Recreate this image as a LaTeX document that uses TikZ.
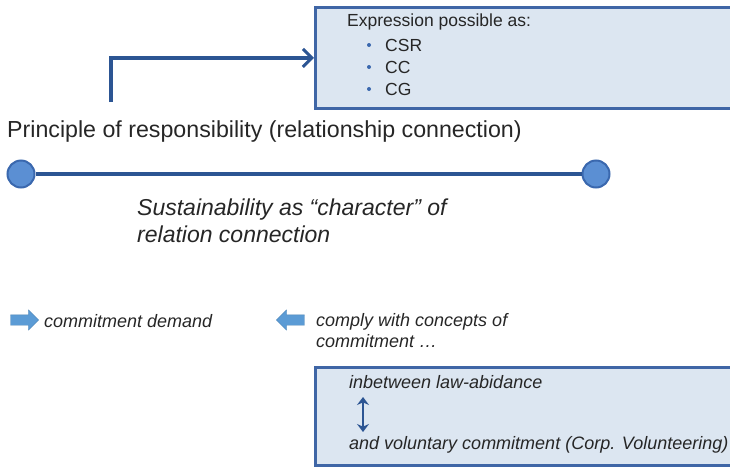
\documentclass[tikz,border=0pt]{standalone}
\usepackage{fontspec}
\setmainfont{Liberation Sans}
\usetikzlibrary{arrows.meta,shapes.arrows}
\definecolor{boxfill}{HTML}{DCE6F1}
\definecolor{boxline}{HTML}{3F66A6}
\definecolor{darkline}{HTML}{2C5593}
\definecolor{dotfill}{HTML}{5B8FD3}
\definecolor{dotline}{HTML}{3A68AE}
\definecolor{blockfill}{HTML}{5B9BD5}
\definecolor{txt}{HTML}{262626}
\tikzset{
  infobox/.style={draw=boxline, line width=2.8pt, fill=boxfill, rectangle, inner sep=0pt, anchor=north west},
  conn/.style={draw=darkline, line width=3.4pt},
  endpt/.style={circle, draw=dotline, line width=2pt, fill=dotfill, minimum size=27pt, inner sep=0pt},
  blockarrow/.style={single arrow, fill=blockfill, draw=blockfill!85!black, line width=0.3pt, minimum height=28pt, text height=5pt, text depth=5pt, inner xsep=0pt, inner ysep=0pt, single arrow head extend=5pt, single arrow tip angle=90},
  lbl/.style={anchor=west, inner sep=0pt, text=txt, align=left},
  big/.style={lbl, font=\fontsize{23.2}{27}\selectfont},
  bigit/.style={lbl, font=\fontsize{23}{27}\selectfont\itshape},
  small/.style={lbl, font=\fontsize{17.5}{22}\selectfont},
  smallit/.style={lbl, font=\fontsize{18}{21}\selectfont\itshape},
  bul/.style={circle, fill=dotline, minimum size=4pt, inner sep=0pt}
}
\begin{document}
\begin{tikzpicture}[x=1pt,y=-1pt]
\useasboundingbox (0,0) rectangle (730,466);
\clip (0,0) rectangle (730,466);

% top box
\node[infobox, minimum width=430pt, minimum height=101pt] (top) at (314,6) {};
\node[small] (expr) at (347,22) {Expression possible as:};
\node[bul] (b1) at (369,45) {};
\node[small] (csr) at (385,45) {CSR};
\node[bul] (b2) at (369,67) {};
\node[small] (cc) at (385,67) {CC};
\node[bul] (b3) at (369,89) {};
\node[small] (cg) at (385,89) {CG};

% elbow arrow
\coordinate (start) at (111,102);
\draw[conn, -{Straight Barb[length=9pt,width=18pt,line width=3pt]}] (start) |- (top.west);

% principle
\node[big] (princ) at (7,131) {Principle of responsibility (relationship connection)};

% line with end points
\node[endpt] (c1) at (21,174) {};
\node[endpt] (c2) at (596,174) {};
\draw[conn] (c1) -- (c2);

\node[bigit] (sust) at (137,221) {Sustainability as “character” of\\relation connection};

% block arrows
\node[blockarrow] (ra) at (22,320) {};
\node[smallit] (demand) at (44,321) {commitment demand};
\node[blockarrow, shape border rotate=180] (la) at (293,320) {};
\node[smallit] (comply) at (316,331) {comply with concepts of\\commitment \dots};

% bottom box
\node[infobox, minimum width=430pt, minimum height=98pt] (bot) at (314,366) {};
\node[smallit] (law) at (349,382) {inbetween law-abidance};
\coordinate (da1) at (363,397);
\coordinate (da2) at (363,432);
\draw[draw=darkline, line width=2pt, {Stealth[length=8pt,width=12pt]}-{Stealth[length=8pt,width=12pt]}] (da1) -- (da2);
\node[smallit] (vol) at (349,445) {and voluntary commitment (Corp. Volunteering)};
\end{tikzpicture}
\end{document}
